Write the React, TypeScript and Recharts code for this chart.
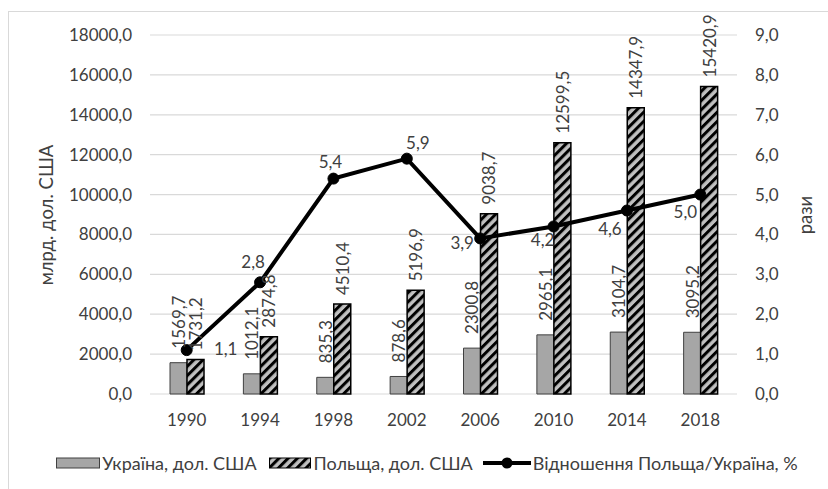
import {
  ComposedChart,
  Bar,
  Line,
  XAxis,
  YAxis,
  CartesianGrid,
  Legend,
  LabelList,
} from 'recharts';

const FONT = 'Lato, "Open Sans", sans-serif';
const TEXT = '#404040';

const years = ['1990', '1994', '1998', '2002', '2006', '2010', '2014', '2018'];
const ukraine = [1569.7, 1012.1, 835.3, 878.6, 2300.8, 2965.1, 3104.7, 3095.2];
const poland = [1731.2, 2874.8, 4510.4, 5196.9, 9038.7, 12599.5, 14347.9, 15420.9];
const ratio = [1.1, 2.8, 5.4, 5.9, 3.9, 4.2, 4.6, 5.0];
const leftTicks = [0, 2000, 4000, 6000, 8000, 10000, 12000, 14000, 16000, 18000];
const rightTicks = [0, 1, 2, 3, 4, 5, 6, 7, 8, 9];

// where each ratio label sits relative to its point (dx, dy of the label centre)
const ratioLabelOffsets = [
  [39, -2],
  [-7, -21],
  [-3, -17],
  [11, -16],
  [-18, 4],
  [-11, 13],
  [-17, 18],
  [-15, 17],
];

const data = years.map((year, i) => ({
  year,
  ukraine: ukraine[i],
  poland: poland[i],
  ratio: ratio[i],
}));

const fmt = (v: number) => Number(v).toFixed(1).replace('.', ',');

const makeBarLabel = (gap: number) => (props: any) => {
  const { x, y, width, value } = props;
  const cx = Number(x) + Number(width) / 2;
  const ty = Number(y) - gap;
  return (
    <text
      x={cx}
      y={ty}
      transform={`rotate(-90 ${cx} ${ty})`}
      textAnchor="start"
      dominantBaseline="central"
      fontSize={17}
      fontFamily={FONT}
      fill={TEXT}
    >
      {fmt(value)}
    </text>
  );
};

const RatioLabel = (props: any) => {
  const { x, y, value, index } = props;
  const [dx, dy] = ratioLabelOffsets[index] || [0, -16];
  return (
    <text
      x={Number(x) + dx}
      y={Number(y) + dy}
      textAnchor="middle"
      dominantBaseline="central"
      fontSize={17}
      fontFamily={FONT}
      fill={TEXT}
    >
      {fmt(value)}
    </text>
  );
};

const renderLegend = () => (
  <div
    style={{
      display: 'flex',
      justifyContent: 'center',
      alignItems: 'center',
      height: 26,
      fontSize: 18,
      fontFamily: FONT,
      color: TEXT,
      whiteSpace: 'nowrap',
      paddingLeft: 26,
    }}
  >
    <svg width={44} height={12}>
      <rect x={0.5} y={1} width={43} height={10} fill="#a6a6a6" stroke="#404040" />
    </svg>
    <span style={{ marginLeft: 2, marginRight: 12 }}>Україна, дол. США</span>
    <svg width={42} height={12}>
      <rect x={0.5} y={1} width={41} height={10} fill="url(#hatch)" stroke="#000" />
    </svg>
    <span style={{ marginLeft: 3, marginRight: 10 }}>Польща, дол. США</span>
    <svg width={48} height={12}>
      <line x1={0} y1={6} x2={48} y2={6} stroke="#000" strokeWidth={4} />
      <circle cx={24} cy={6} r={5.5} fill="#000" />
    </svg>
    <span style={{ marginLeft: 2 }}>Відношення Польща/Україна, %</span>
  </div>
);

export default function App() {
  return (
    <div style={{ position: 'relative', width: 828, height: 489, overflow: 'hidden', background: '#fff' }}>
      <style>{'body{margin:0;}'}</style>
      <div
        style={{
          position: 'absolute',
          left: 8,
          top: 11,
          width: 840,
          height: 500,
          border: '1px solid #d9d9d9',
        }}
      />
      <ComposedChart
        width={828}
        height={489}
        data={data}
        margin={{ top: 35, right: 0, bottom: 13, left: 0 }}
        barGap={0}
        barSize={17}
        style={{ position: 'absolute', left: 0, top: 0 }}
      >
        <defs>
          <pattern id="hatch" width="6.5" height="6.5" patternUnits="userSpaceOnUse" patternTransform="rotate(45)">
            <rect width="6.5" height="6.5" fill="#c0c0c0" />
            <rect width="3" height="6.5" fill="#000" />
          </pattern>
        </defs>
        <CartesianGrid yAxisId="left" vertical={false} stroke="#d9d9d9" strokeWidth={1.2} />
        <XAxis
          dataKey="year"
          axisLine={false}
          tickLine={false}
          tickSize={0}
          tickMargin={20}
          height={56}
          tick={{ fontSize: 17, fontFamily: FONT, fill: TEXT }}
        />
        <YAxis
          yAxisId="left"
          width={150}
          domain={[0, 18000]}
          ticks={leftTicks}
          tickFormatter={fmt}
          axisLine={false}
          tickLine={false}
          tickSize={0}
          tickMargin={18}
          tick={{ fontSize: 17, fontFamily: FONT, fill: TEXT }}
          label={{
            content: () => (
              <text
                x={46}
                y={215}
                transform="rotate(-90 46 215)"
                textAnchor="middle"
                dominantBaseline="central"
                fontSize={18.5}
                fontFamily={FONT}
                fill={TEXT}
              >
                млрд. дол. США
              </text>
            ),
          }}
        />
        <YAxis
          yAxisId="right"
          orientation="right"
          width={91}
          domain={[0, 9]}
          ticks={rightTicks}
          tickFormatter={fmt}
          axisLine={false}
          tickLine={false}
          tickSize={0}
          tickMargin={18}
          tick={{ fontSize: 17, fontFamily: FONT, fill: TEXT }}
          label={{
            content: () => (
              <text
                x={805}
                y={215}
                transform="rotate(-90 805 215)"
                textAnchor="middle"
                dominantBaseline="central"
                fontSize={18.5}
                fontFamily={FONT}
                fill={TEXT}
              >
                рази
              </text>
            ),
          }}
        />
        <Legend verticalAlign="bottom" content={renderLegend} />
        <Bar yAxisId="left" dataKey="ukraine" fill="#a6a6a6" stroke="#404040" strokeWidth={1} isAnimationActive={false}>
          <LabelList dataKey="ukraine" content={makeBarLabel(14)} />
        </Bar>
        <Bar yAxisId="left" dataKey="poland" fill="url(#hatch)" stroke="#000" strokeWidth={1.5} isAnimationActive={false}>
          <LabelList dataKey="poland" content={makeBarLabel(9)} />
        </Bar>
        <Line
          yAxisId="right"
          dataKey="ratio"
          stroke="#000"
          strokeWidth={4}
          dot={{ r: 5.5, fill: '#000', stroke: '#000', strokeWidth: 1 }}
          activeDot={false}
          isAnimationActive={false}
        >
          <LabelList dataKey="ratio" content={RatioLabel} />
        </Line>
      </ComposedChart>
    </div>
  );
}
